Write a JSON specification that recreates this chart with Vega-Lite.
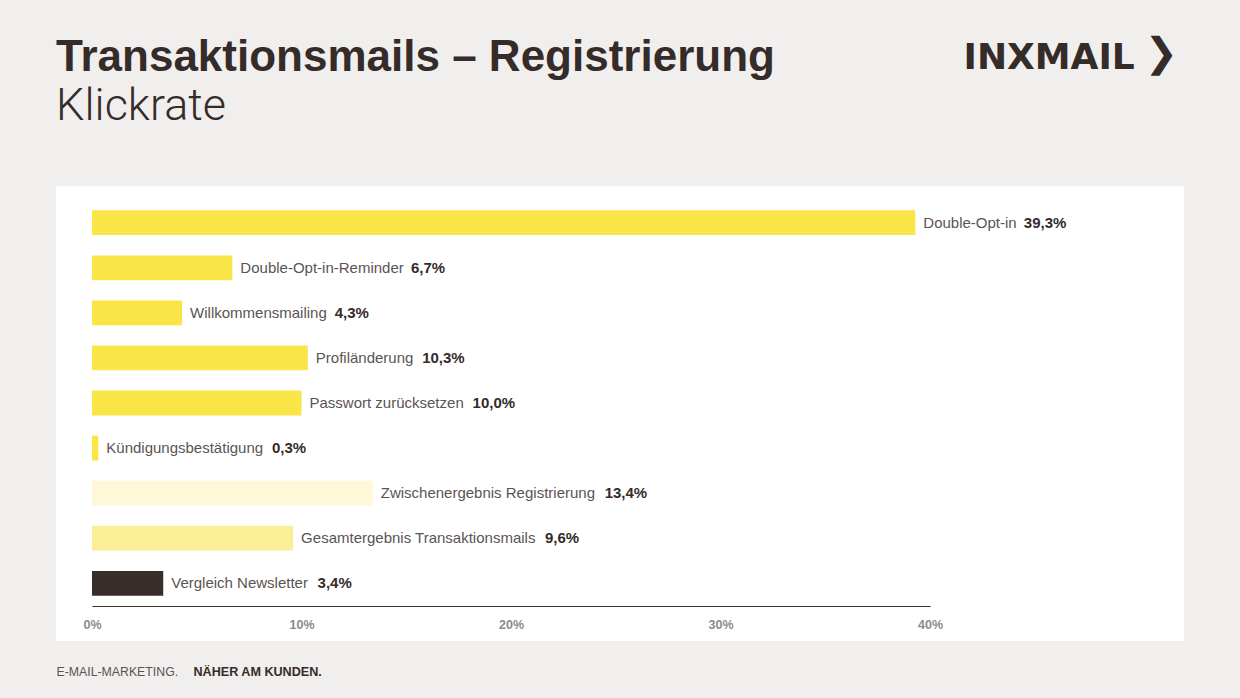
{
  "$schema": "https://vega.github.io/schema/vega-lite/v6.json",
  "width": 1128,
  "height": 455,
  "autosize": {"type": "none"},
  "padding": {"left": 56, "top": 186, "right": 56, "bottom": 57},
  "background": "#f0efee",
  "config": {"view": {"fill": "#ffffff", "stroke": null}},
  "title": {
    "text": "Transaktionsmails – Registrierung",
    "subtitle": "Klickrate",
    "anchor": "start",
    "frame": "group",
    "offset": -96,
    "font": "Liberation Sans",
    "fontSize": 44,
    "fontWeight": "bold",
    "color": "#352b28",
    "subtitleFont": "Roboto",
    "subtitleFontSize": 45,
    "subtitleFontWeight": 300,
    "subtitleColor": "#352b28",
    "subtitlePadding": 4
  },
  "data": {
    "values": [
      {"label": "Double-Opt-in", "v": 39.3, "cat": "einzel"},
      {"label": "Double-Opt-in-Reminder", "v": 6.7, "cat": "einzel"},
      {"label": "Willkommensmailing", "v": 4.3, "cat": "einzel"},
      {"label": "Profiländerung", "v": 10.3, "cat": "einzel"},
      {"label": "Passwort zurücksetzen", "v": 10.0, "cat": "einzel"},
      {"label": "Kündigungsbestätigung", "v": 0.3, "cat": "einzel"},
      {"label": "Zwischenergebnis Registrierung", "v": 13.4, "cat": "zwischen"},
      {"label": "Gesamtergebnis Transaktionsmails", "v": 9.6, "cat": "gesamt"},
      {"label": "Vergleich Newsletter", "v": 3.4, "cat": "newsletter"}
    ]
  },
  "transform": [
    {"calculate": "replace(format(datum.v, '.1f'), '.', ',') + '%'", "as": "vt"},
    {"calculate": "0.556*length(datum.label) - 0.334*length(replace(datum.label, regexp('[^ijl]','g'), '')) - 0.278*length(replace(datum.label, regexp('[^ft I.,]','g'), '')) - 0.223*length(replace(datum.label, regexp('[^r-]','g'), '')) - 0.056*length(replace(datum.label, regexp('[^ckszvxy]','g'), '')) + 0.277*length(replace(datum.label, regexp('[^m]','g'), '')) + 0.166*length(replace(datum.label, regexp('[^A-HJ-Zw]','g'), '')) + 0.222*length(replace(datum.label, regexp('[^W]','g'), ''))", "as": "wem"},
    {"calculate": "datum.v + (8 + 15*datum.wem + 8) / 20.95", "as": "vx"}
  ],
  "layer": [
    {
      "mark": {"type": "bar"},
      "encoding": {
        "y": {
          "field": "label", "type": "nominal", "sort": null,
          "scale": {"range": [14.16, 419.84], "paddingInner": 0.45, "paddingOuter": 0.225},
          "axis": {
            "orient": "left", "domain": false, "ticks": false, "labels": false, "grid": false,
            "title": "NÄHER AM KUNDEN.", "titleAngle": 0, "titleX": 137, "titleY": 489,
            "titleAlign": "left", "titleBaseline": "alphabetic",
            "titleFont": "Liberation Sans", "titleFontSize": 12.6, "titleFontWeight": "bold", "titleColor": "#352b28"
          }
        },
        "x": {
          "field": "v", "type": "quantitative",
          "scale": {"domain": [0, 40], "range": [36, 874], "nice": false, "zero": true},
          "axis": {
            "orient": "bottom", "offset": -35, "values": [0, 10, 20, 30, 40],
            "labelExpr": "datum.value + '%'", "labelFlush": false,
            "domainColor": "#3a302c", "domainWidth": 1.2, "ticks": false, "grid": false,
            "labelPadding": 12, "labelFont": "Liberation Sans", "labelFontSize": 12.5,
            "labelFontWeight": "bold", "labelColor": "#8f8987",
            "title": "E-MAIL-MARKETING.", "titleX": 0, "titleY": 69, "titleAlign": "left", "titleAnchor": "start",
            "titleBaseline": "alphabetic", "titleFont": "Liberation Sans", "titleFontSize": 12.3,
            "titleFontWeight": "normal", "titleColor": "#5a5250"
          }
        },
        "color": {
          "field": "cat", "type": "nominal",
          "scale": {"domain": ["einzel", "zwischen", "gesamt", "newsletter"], "range": ["#fae546", "#fef8d8", "#fcee96", "#372e2b"]},
          "legend": null
        }
      }
    },
    {
      "mark": {"type": "text", "align": "left", "baseline": "middle", "dx": 8, "font": "Liberation Sans", "fontSize": 15, "color": "#5b5452"},
      "encoding": {
        "y": {
          "field": "label", "type": "nominal", "sort": null,
          "scale": {"range": [14.16, 419.84], "paddingInner": 0.45, "paddingOuter": 0.225},
          "axis": {
            "orient": "right", "domain": false, "ticks": false, "labels": false, "grid": false,
            "title": "INXMAIL", "titleAngle": 0, "titleX": -221, "titleY": -118,
            "titleAlign": "left", "titleBaseline": "alphabetic",
            "titleFont": "DejaVu Sans", "titleFontSize": 36, "titleFontWeight": "bold", "titleColor": "#352b28"
          }
        },
        "x": {
          "field": "v", "type": "quantitative",
          "scale": {"domain": [0, 40], "range": [36, 874], "nice": false, "zero": true},
          "axis": {
            "orient": "top", "domain": false, "ticks": false, "labels": false, "grid": false,
            "title": "❯", "titleX": 1088, "titleY": -121, "titleAlign": "left", "titleBaseline": "alphabetic",
            "titleFont": "DejaVu Sans", "titleFontSize": 40, "titleFontWeight": "bold", "titleColor": "#352b28"
          }
        },
        "text": {"field": "label"}
      }
    },
    {
      "mark": {"type": "text", "align": "left", "baseline": "middle", "font": "Liberation Sans", "fontSize": 15, "fontWeight": "bold", "color": "#352b28"},
      "encoding": {
        "y": {
          "field": "label", "type": "nominal", "sort": null,
          "scale": {"range": [14.16, 419.84], "paddingInner": 0.45, "paddingOuter": 0.225},
          "axis": null
        },
        "x": {
          "field": "vx", "type": "quantitative",
          "scale": {"domain": [0, 40], "range": [36, 874], "nice": false, "zero": true},
          "axis": null
        },
        "text": {"field": "vt"}
      }
    }
  ],
  "resolve": {"axis": {"x": "independent", "y": "independent"}}
}
